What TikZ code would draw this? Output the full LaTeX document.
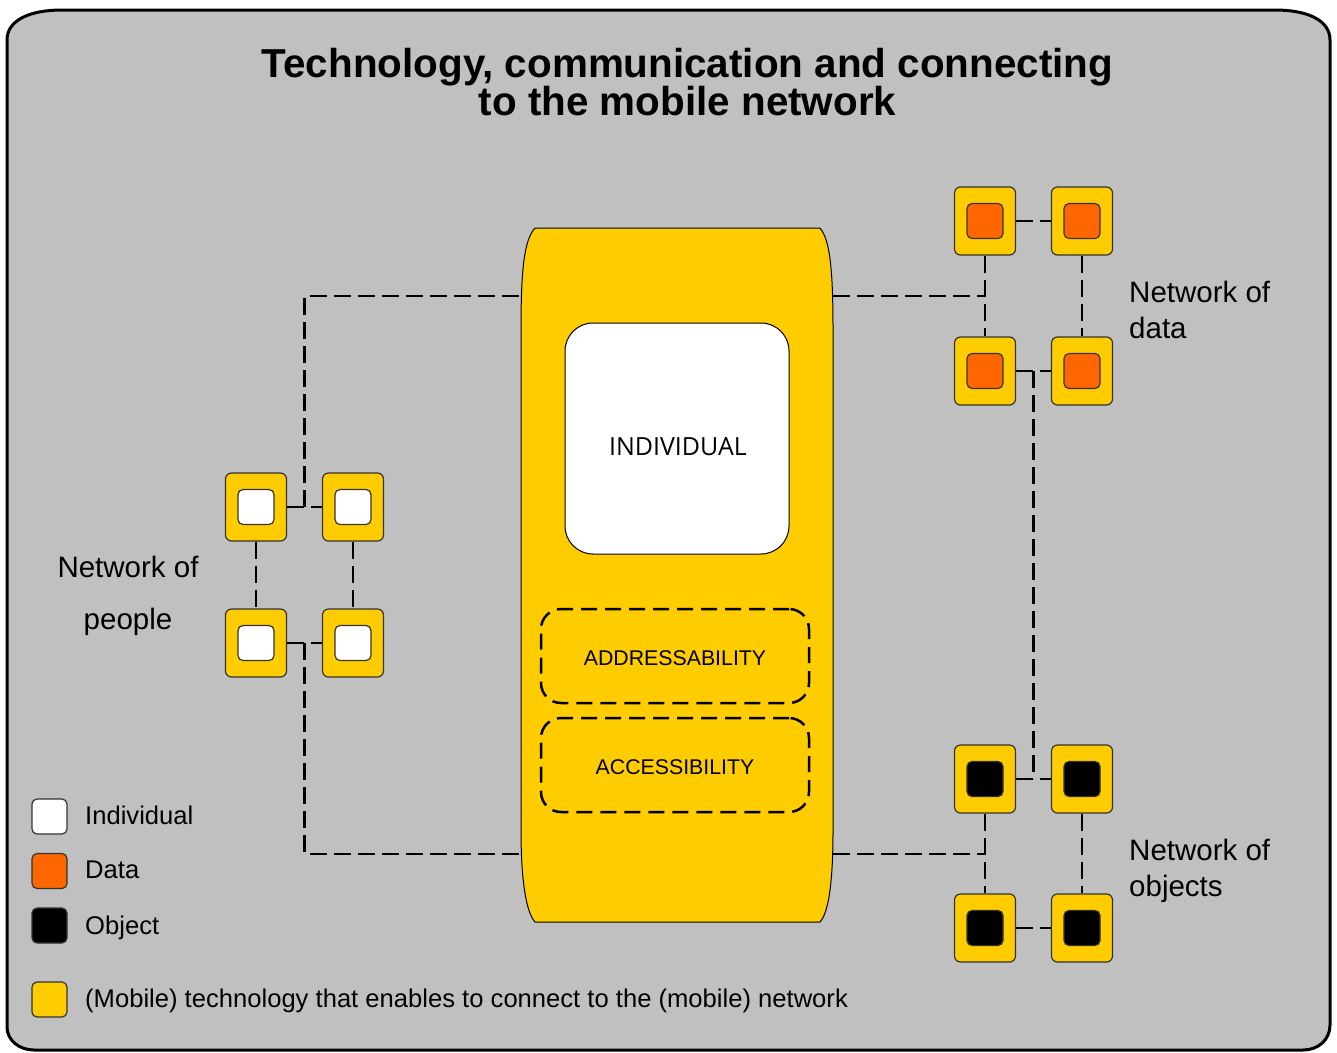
\documentclass[tikz,border=0pt]{standalone}
\usepackage{fontspec}
\setmainfont{Liberation Sans}
\newfontfamily\osans{Open Sans}
\usetikzlibrary{calc}
\definecolor{bggray}{HTML}{C0C0C0}
\definecolor{techyellow}{HTML}{FFCC00}
\definecolor{dataorange}{HTML}{FF6600}
\definecolor{edgegray}{HTML}{333333}
\tikzset{
  tech/.style={draw=edgegray, fill=techyellow, rounded corners=6pt, minimum width=61pt, minimum height=68pt, inner sep=0pt, line width=1.2pt},
  core/.style={draw=edgegray, rounded corners=5pt, minimum width=36pt, minimum height=35pt, inner sep=0pt, line width=1.2pt},
  legendbox/.style={draw=edgegray, rounded corners=5pt, minimum width=35pt, minimum height=35pt, inner sep=0pt, line width=1.2pt},
  link/.style={line width=2.2pt, dash pattern=on 17pt off 7pt},
  featurebox/.style={draw=black, line width=2.5pt, dash pattern=on 16pt off 8pt, rounded corners=20pt, minimum width=268pt, minimum height=94pt, inner sep=0pt},
  lbl/.style={inner sep=0pt, font=\fontsize{29.5}{36}\selectfont},
  legtxt/.style={inner sep=0pt, anchor=base west, font=\fontsize{25.6}{31}\selectfont},
}
\begin{document}
\begin{tikzpicture}[x=1pt,y=-1pt]
\useasboundingbox (0,0) rectangle (1337,1052);
% outer frame
\draw[line width=3pt, fill=bggray] (7,1027) -- (7,40) .. controls (7,20) and (30,10) .. (62,10) -- (1275,10) .. controls (1307,10) and (1330,20) .. (1330,40) -- (1330,1025) .. controls (1330,1040) and (1318,1050) .. (1303,1050) -- (34,1050) .. controls (19,1050) and (7,1040) .. (7,1027) -- cycle;
% title
\node[inner sep=0pt, anchor=north, align=center, font=\fontsize{40.4}{38}\selectfont\bfseries] (title) at (687.5,48) {Technology, communication and connecting\\to the mobile network};
% phone
\draw[line width=1pt, fill=techyellow] (535,228) -- (820,228) .. controls (830,240) and (833,270) .. (833,330) -- (833,830) .. controls (833,880) and (829,912) .. (820,922) -- (535,922) .. controls (526,912) and (521,880) .. (521,830) -- (521,330) .. controls (521,270) and (524,240) .. (535,228) -- cycle;
\coordinate (pl1) at (521,296);
\coordinate (pr1) at (833,296);
\coordinate (pl2) at (521,854);
\coordinate (pr2) at (833,854);
\node[draw=black, line width=1pt, fill=white, rounded corners=28pt, minimum width=224pt, minimum height=231pt, inner sep=0pt] (indiv) at (677,438.5) {};
\node[inner sep=0pt, anchor=base, font=\osans\fontsize{25}{28}\selectfont] (indivtxt) at (678,455) {INDIVIDUAL};
\node[featurebox] (addr) at (675,656) {};
\node[inner sep=0pt, anchor=base, font=\fontsize{21.3}{24}\selectfont] (addrtxt) at (675,665) {ADDRESSABILITY};
\node[featurebox] (acc) at (675,765) {};
\node[inner sep=0pt, anchor=base, font=\fontsize{21.3}{24}\selectfont] (acctxt) at (675,774) {ACCESSIBILITY};
% network of data
\node[tech] (d11) at (985,221) {};
\node[tech] (d12) at (1082,221) {};
\node[tech] (d21) at (985,371) {};
\node[tech] (d22) at (1082,371) {};
\foreach \n in {d11,d12,d21,d22} {\node[core, fill=dataorange] (i\n) at (\n) {};}
% network of objects
\node[tech] (o11) at (985,779) {};
\node[tech] (o12) at (1082,779) {};
\node[tech] (o21) at (985,928) {};
\node[tech] (o22) at (1082,928) {};
\foreach \n in {o11,o12,o21,o22} {\node[core, fill=black] (i\n) at (\n) {};}
% network of people
\node[tech] (p11) at (256,507) {};
\node[tech] (p12) at (353,507) {};
\node[tech] (p21) at (256,643) {};
\node[tech] (p22) at (353,643) {};
\foreach \n in {p11,p12,p21,p22} {\node[core, fill=white] (i\n) at (\n) {};}
% connectors
\draw[link] (d11) -- (d12);
\draw[link] (d11) -- (d21);
\draw[link] (d12) -- (d22);
\draw[link] (d21) -- (d22);
\draw[link] (o11) -- (o12);
\draw[link] (o11) -- (o21);
\draw[link] (o12) -- (o22);
\draw[link] (o21) -- (o22);
\draw[link] (p11) -- (p12);
\draw[link] (p11) -- (p21);
\draw[link] (p12) -- (p22);
\draw[link] (p21) -- (p22);
\coordinate (dm) at ($(d21.east)!0.5!(d22.west)$);
\coordinate (om) at ($(o11.east)!0.5!(o12.west)$);
\coordinate (pm1) at ($(p11.east)!0.5!(p12.west)$);
\coordinate (pm2) at ($(p21.east)!0.5!(p22.west)$);
\draw[link] (dm) -- (om);
\draw[link] (pr1) -- (pr1 -| d11);
\draw[link] (pr2) -- (pr2 -| o11);
\draw[link] (pm1) |- (pl1);
\draw[link] (pm2) |- (pl2);
% labels
\node[lbl, anchor=north west, align=left] (ldata) at (1129,281) {Network of\\data};
\node[lbl, anchor=north west, align=left] (lobj) at (1129,839) {Network of\\objects};
\node[lbl, anchor=north, align=center, font=\fontsize{29.5}{52}\selectfont] (lpeople) at (128,556) {Network of\\people};
% legend
\node[legendbox, fill=white] (lg1) at (49.5,816.5) {};
\node[legendbox, fill=dataorange] (lg2) at (49.5,871) {};
\node[legendbox, fill=black] (lg3) at (49.5,925.5) {};
\node[legendbox, fill=techyellow] (lg4) at (49.5,999.5) {};
\node[legtxt] (lt1) at (85,824) {Individual};
\node[legtxt] (lt2) at (85,878) {Data};
\node[legtxt] (lt3) at (85,934) {Object};
\node[legtxt] (lt4) at (85,1007) {(Mobile) technology that enables to connect to the (mobile) network};
\end{tikzpicture}
\end{document}
